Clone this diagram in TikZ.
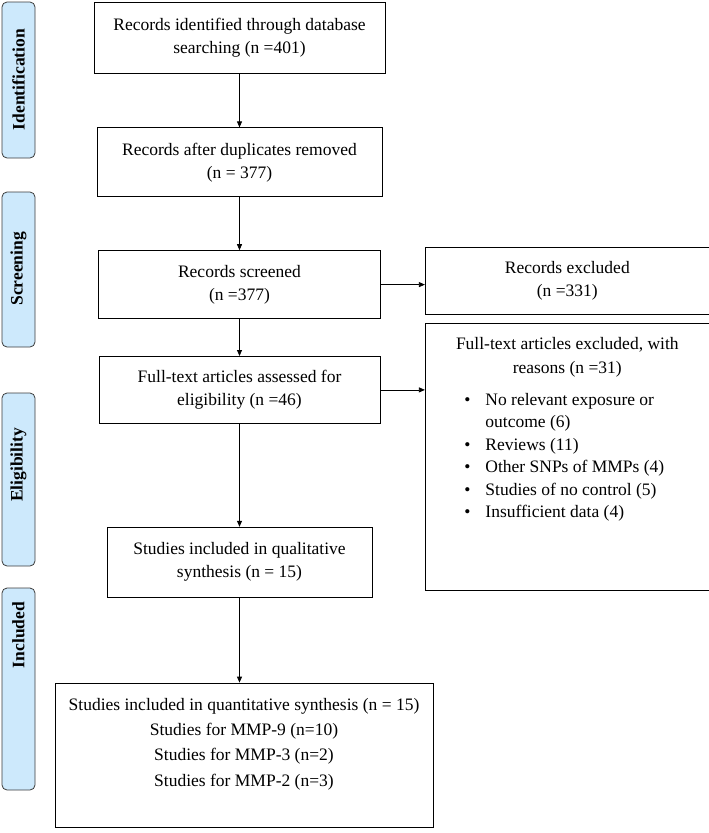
\documentclass[tikz,border=0pt]{standalone}
\usepackage{fontspec}
\setmainfont{Liberation Serif}
\usetikzlibrary{positioning}
\usetikzlibrary{arrows.meta}
\definecolor{stageblue}{HTML}{CDE9FC}
\definecolor{stageline}{HTML}{3C3C3C}

\begin{document}
\begin{tikzpicture}[%
    x=1pt, y=-1pt,
    >={Triangle[length=6pt,width=5pt]},
    font=\fontsize{17.5}{23}\selectfont,
box/.style={rectangle, align=center, draw=black, line width=0.8pt, inner sep=3pt},
listbox/.style={rectangle, draw=black, line width=0.8pt, inner sep=0pt},
stage/.style={rectangle, rounded corners=5pt, rotate=90, draw=stageline, fill=stageblue, line width=0.8pt, minimum height=33pt, align=right, font=\fontsize{17.5}{21}\selectfont\bfseries}
]

\useasboundingbox (0,0) rectangle (709,833);

% stage labels
\node[stage, inner xsep=27pt, text width=102pt]      (identification) at (18.5,80)    {Identification};
\node[stage, inner xsep=40pt, text width=75pt]       (screening)      at (18.5,269.5) {Screening};
\node[stage, inner xsep=35pt, text width=103pt]      (eligibility)    at (18.5,479.5) {Eligibility};
\node[stage, inner xsep=14pt, text width=174pt]      (included)       at (18.5,689)   {Included};

% main column
\node[box, minimum width=291pt, minimum height=71pt]        (identified) at (239.5,37.5) {Records identified through database\\searching (n =401)};

\node[box, minimum width=285pt, minimum height=69pt]        (duplicates) [below=54pt of identified] {Records after duplicates removed\\(n = 377)};

\node[box, minimum width=282pt, minimum height=68pt]        (screened) [below=53pt of duplicates] {Records screened\\(n =377)};

\node[box, minimum width=281pt, minimum height=67pt]        (assessed) [below=37pt of screened] {Full-text articles assessed for\\eligibility (n =46)};

\node[box, minimum width=265pt, minimum height=70pt]        (qualitative) [below=103pt of assessed] {Studies included in qualitative\\synthesis (n = 15)};

\node[listbox]      (quantitative) [below=85pt of qualitative, xshift=4.5pt] {%
\begin{minipage}[c][144pt][t]{378pt}
\fontsize{17.5}{25.3}\selectfont\centering
\vspace*{15pt}
Studies included in quantitative synthesis (n = 15)\\
Studies for MMP-9 (n=10)\\
Studies for MMP-3 (n=2)\\
Studies for MMP-2 (n=3)
\end{minipage}};

% excluded column
\node[box, minimum width=284pt, minimum height=67pt]        (excluded) [right=44pt of screened, yshift=3.5pt] {Records excluded\\(n =331)};

\node[listbox]      (reasons) [below=8pt of excluded] {%
\begin{minipage}[c][267pt][t]{284pt}
\fontsize{17.5}{24}\selectfont
\vspace*{14pt}
{\centering Full-text articles excluded, with\\reasons (n =31)\par}
\vspace{11pt}
\fontsize{17.5}{22.5}\selectfont
\hspace*{39pt}\begin{tabular}{@{}l@{\hspace{15pt}}l@{}}
\textbullet & No relevant exposure or\\
 & outcome (6)\\
\textbullet & Reviews (11)\\
\textbullet & Other SNPs of MMPs (4)\\
\textbullet & Studies of no control (5)\\
\textbullet & Insufficient data (4)
\end{tabular}
\end{minipage}};

% lines down
\draw[->, line width=0.8pt] (identified.south) -- (duplicates.north);
\draw[->, line width=0.8pt] (duplicates.south) -- (screened.north);
\draw[->, line width=0.8pt] (screened.south) -- (assessed.north);
\draw[->, line width=0.8pt] (assessed.south) -- (qualitative.north);
\draw[->, line width=0.8pt] (qualitative.south) -- (qualitative.south |- quantitative.north);

% lines across
\draw[->, line width=0.8pt] (screened.east) -- (screened.east -| excluded.west);
\draw[->, line width=0.8pt] (assessed.east) -- (assessed.east -| reasons.west);

\end{tikzpicture}
\end{document}
